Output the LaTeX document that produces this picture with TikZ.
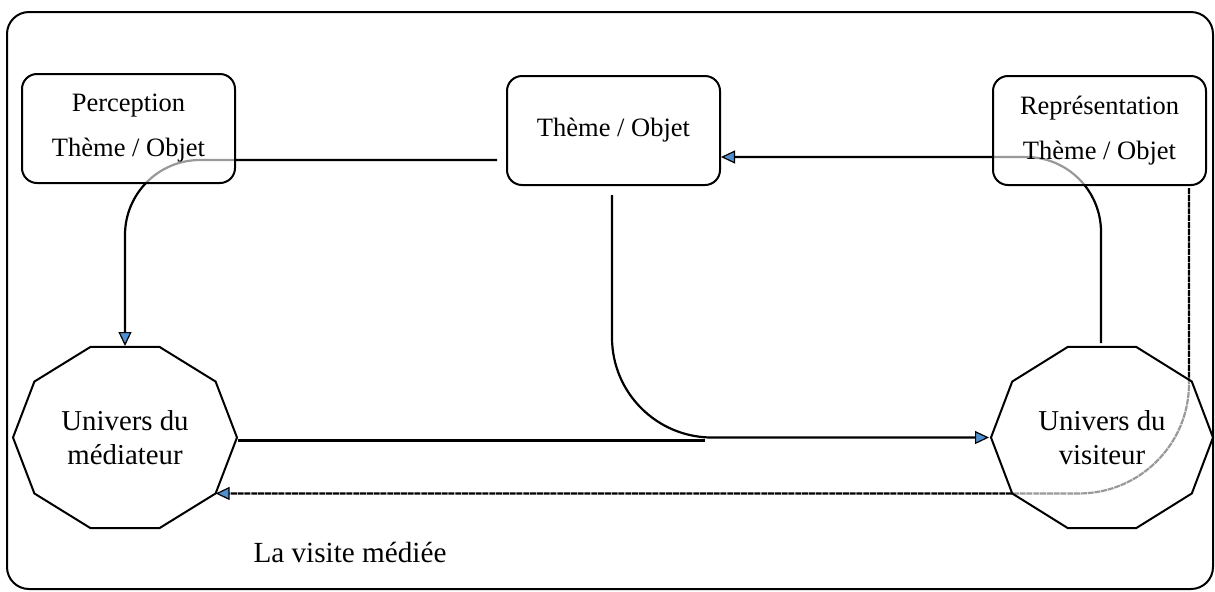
\documentclass[tikz,border=0pt]{standalone}
\usepackage{fontspec}
\setmainfont{Liberation Serif}
\usetikzlibrary{arrows.meta,positioning}
\pgfdeclarelayer{back}
\pgfsetlayers{back,main}
\definecolor{tipblue}{RGB}{79,143,207}

\begin{document}
\begin{tikzpicture}[x=0.5pt,y=-0.5pt,line width=1pt,
  box/.style={draw,rounded corners=7.5pt,fill=white,fill opacity=0.6,text opacity=1,
    minimum width=106.5pt,minimum height=54.5pt,align=center,
    font=\fontsize{13.25}{22.5}\selectfont},
  univers/.style={minimum width=112pt,minimum height=90.5pt,align=center,
    font=\fontsize{14.4}{17}\selectfont},
  decagon/.style={draw,fill=white,fill opacity=0.6},
  wire/.style={line width=1.1pt},
  link/.style={wire,-{Triangle[length=7pt,width=6.5pt,line width=0.6pt,fill=tipblue]}},
  dashline/.style={dash pattern=on 3pt off 0.4pt}]

\useasboundingbox (0,0) rectangle (1215,591);
\draw[rounded corners=11pt] (7,12) rectangle (1213,589);

\node[box]  (Perc)  at (128.5,128.5) {Perception\\Thème / Objet};
\node[box]  (Theme) at (613.5,130.5) {Thème / Objet};
\node[box]  (Repr)  at (1099.5,130.5) {Représentation\\Thème / Objet};

\coordinate (MedC) at (125,437.5);
\coordinate (VisC) at (1102,437.5);
\draw[decagon,shift={(MedC)}] (0:112 and 95.2)
  \foreach \a in {36,72,...,324} {-- (\a:112 and 95.2)} -- cycle;
\draw[decagon,shift={(VisC)}] (0:111 and 95.2)
  \foreach \a in {36,72,...,324} {-- (\a:111 and 95.2)} -- cycle;
\node[univers] (Med) at (MedC) {Univers du\\médiateur};
\node[univers] (Vis) at (VisC) {Univers du\\visiteur};
\path[shift={(MedC)}] (36:112 and 95.2) coordinate (MedSE);

\node (Label) at (350,552) {\fontsize{14.6}{17}\selectfont La visite médiée};

% free ends of the connectors
\coordinate (ThW)  at (497,160);
\coordinate (ThS)  at (612,195);
\coordinate (VisN) at (1101,343);
\coordinate (RepS) at (1189,188);
\coordinate (MedE) at (705,440.5);

\begin{pgfonlayer}{back}
\draw[link,rounded corners=37.5pt] (ThW) -| (Med.north);
\draw[link,rounded corners=50pt] (ThS) |- (Vis.west);
\draw[wire] ([yshift=-1.5pt]Med.east) -- (MedE);
\draw[link,rounded corners=37.5pt] (VisN) |- ([yshift=-13.25pt]Theme.east);
\draw[link,dashline,rounded corners=55pt] (RepS) |- (MedSE);
\end{pgfonlayer}

\end{tikzpicture}
\end{document}
